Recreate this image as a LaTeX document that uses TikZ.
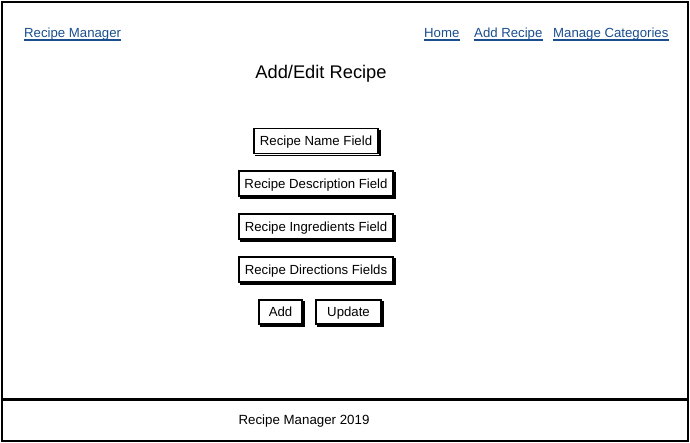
\documentclass[tikz,border=0pt]{standalone}
\usepackage{fontspec}
\setmainfont{Liberation Sans}
\definecolor{linkblue}{HTML}{1A4F8F}
\begin{document}
\begin{tikzpicture}[x=1pt,y=-1pt,
  frame/.style={draw=black,line width=2pt},
  field/.style={draw=black,line width=1.8pt,fill=white,inner sep=0pt,minimum height=25pt,text height=9.5pt,text depth=0pt,font=\fontsize{13.2}{15}\selectfont},
  shadow/.style={draw=black,line width=1.4pt},
  link/.style={text=linkblue,font=\fontsize{13.2}{15}\selectfont,inner sep=0pt,anchor=base west},
]
\useasboundingbox (0,0) rectangle (690,442);
\fill[white] (0,0) rectangle (690,442);
% frames
\draw[frame] (1.5,1.5) rectangle (688,398.5);
\draw[frame] (1.5,399.5) rectangle (688,440.5);
% nav links
\node[link] (brand) at (24,37) {Recipe Manager};
\node[link] (home) at (424,37) {Home};
\node[link] (addr) at (474,37) {Add Recipe};
\node[link] (mcat) at (553,37) {Manage Categories};
\foreach \n in {brand,home,addr,mcat}
  \draw[linkblue,line width=1.2pt] ([yshift=-3pt]\n.base west) -- ([yshift=-3pt]\n.base east);
% title
\node[font=\fontsize{18.3}{21}\selectfont,inner sep=0pt] (title) at (321,73.5) {Add/Edit Recipe};
% fields
\node[field,minimum width=124pt] (name) at (316,141) {Recipe Name Field};
\node[field,minimum width=154pt] (desc) at (316,183.5) {Recipe Description Field};
\node[field,minimum width=154pt] (ingr) at (316,226.5) {Recipe Ingredients Field};
\node[field,minimum width=154pt] (dirs) at (316,269.5) {Recipe Directions Fields};
\node[field,minimum width=43pt,minimum height=24pt] (add) at (280.5,312) {Add};
\node[field,minimum width=65pt,minimum height=24pt] (upd) at (348.5,312) {Update};
\foreach \n in {name,desc,ingr,dirs,add,upd}
  \draw[shadow] ([xshift=2pt,yshift=-1.2pt]\n.south west) -- ([xshift=1.2pt,yshift=-1.2pt]\n.south east) -- ([xshift=1.2pt,yshift=-2pt]\n.north east);
% footer
\node[font=\fontsize{13.3}{15}\selectfont,inner sep=0pt] (foot) at (304,421.5) {Recipe Manager 2019};
\end{tikzpicture}
\end{document}
